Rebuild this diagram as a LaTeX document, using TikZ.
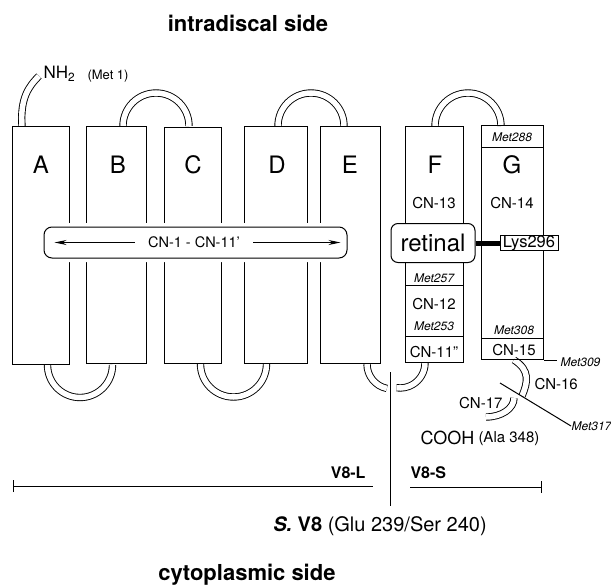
\documentclass[tikz,border=0pt]{standalone}
\usepackage{fontspec}
\setmainfont{TeX Gyre Heros}
\usetikzlibrary{arrows.meta,backgrounds,calc}
\newcommand{\fsz}[1]{\fontsize{#1}{#1}\selectfont}
\tikzset{every picture/.style={line width=1pt}}
\tikzset{
  helix/.style={draw, rectangle, inner sep=0pt, anchor=north west},
  loopline/.style={double, double distance=5.5pt, line width=0.9pt},
  hxlabel/.style={font=\fsz{24}},
  cnlabel/.style={font=\fsz{15}, inner sep=0pt},
  metlabel/.style={font=\fsz{12}\itshape, inner sep=0pt},
  sidelabel/.style={font=\fsz{22}\bfseries},
  v8label/.style={font=\fsz{16}\bfseries, inner sep=0pt},
}

\begin{document}
\begin{tikzpicture}[x=1pt,y=1pt]
    \useasboundingbox (0,0) rectangle (611,-586);
    % Seiten
    \node[sidelabel] (intra) at (248,-23) {intradiscal side};
    \node[sidelabel] (cyto) at (247,-575) {cytoplasmic side};
    % Helices A-G
    \node[helix, minimum width=57pt, minimum height=238pt] (hA) at (12,-126) {};
    \node[helix, minimum width=60pt, minimum height=237pt] (hB) at (86,-126) {};
    \node[helix, minimum width=57pt, minimum height=236pt] (hC) at (164,-127) {};
    \node[helix, minimum width=63pt, minimum height=237pt] (hD) at (244,-126) {};
    \node[helix, minimum width=60pt, minimum height=237pt] (hE) at (320,-126) {};
    \node[helix, minimum width=58pt, minimum height=236pt] (hF) at (405,-126) {};
    \node[helix, minimum width=62pt, minimum height=234pt] (hG) at (481,-125) {};
    \foreach \h/\x in {A/41,B/118,C/193,D/277,E/350,F/435,G/512}
        \node[hxlabel] (l\h) at (\x,-165) {\h};
    % N-Terminus
    \node[font=\fsz{17}, anchor=west, inner sep=0pt] (nh2) at (43,-74) {NH\textsubscript{2}};
    \node[font=\fsz{13}, anchor=west, inner sep=0pt] (met1) at (87,-76) {(Met 1)};
    % Schleifen
    \coordinate (c16) at (522,-396);
    \coordinate (c17) at (514,-398);
    \begin{scope}[on background layer]
        \draw[loopline] ([xshift=10pt]hA.north west) .. controls +(-2,28) and +(-10,-10) .. ([xshift=-4pt,yshift=-2pt]nh2.west);
        \draw[loopline] ([xshift=37pt]hB.north west) arc[start angle=180, end angle=0, radius=33];
        \draw[loopline] ([xshift=34pt]hD.north west) arc[start angle=180, end angle=0, radius=33];
        \draw[loopline] ([xshift=30pt]hF.north west) arc[start angle=180, end angle=0, radius=33];
        \draw[loopline] ([xshift=35.5pt]hA.south west) arc[start angle=180, end angle=360, radius=32.5];
        \draw[loopline] ([xshift=36.5pt]hC.south west) arc[start angle=180, end angle=360, radius=33];
        \draw[loopline] ([xshift=47pt]hE.south west) arc[start angle=180, end angle=258, radius=25];
        \draw[loopline] ([xshift=20pt]hF.south west) arc[start angle=0, end angle=-98, radius=25];
        \draw[loopline] ([xshift=33pt]hG.south west) .. controls +(16,-10) and +(6,14) .. (c16);
        \draw[loopline] (c17) arc[start angle=0, end angle=-90, x radius=28, y radius=19];
    \end{scope}
    % CN-1 - CN-11'
    \node[draw, fill=white, rounded corners=8pt, minimum width=303pt, minimum height=31pt,
          preaction={draw=white, line width=8pt}] (tm) at (195.5,-242.5) {};
    \draw[{Stealth[length=12pt,width=5pt]}-{Stealth[length=12pt,width=5pt]}]
        ([xshift=11pt]tm.west) -- ([xshift=-7pt]tm.east);
    \node[cnlabel, font=\fsz{14.5}, fill=white, inner xsep=13pt, inner ysep=2pt] (tmtxt) at (194,-242) {CN-1 - CN-11'};
    % Helix F
    \node[cnlabel] (cn13) at (434,-203) {CN-13};
    \node[metlabel] (m257) at (434,-278) {Met257};
    \draw (hF.west |- 0,-285) -- (hF.east |- 0,-285);
    \node[cnlabel] (cn12) at (434,-304) {CN-12};
    \node[metlabel] (m253) at (434,-326) {Met253};
    \draw (hF.west |- 0,-336) -- (hF.east |- 0,-336);
    \node[cnlabel] (cn11) at (434,-352) {CN-11''};
    % Helix G
    \node[metlabel] (m288) at (512,-137) {Met288};
    \draw (hG.west |- 0,-147) -- (hG.east |- 0,-147);
    \node[cnlabel] (cn14) at (512,-203) {CN-14};
    \node[metlabel] (m308) at (514,-330) {Met308};
    \draw (hG.west |- 0,-338) -- (hG.east |- 0,-338);
    \node[cnlabel] (cn15) at (514,-350) {CN-15};
    \draw (hG.south east) -- ++(13,0);
    \node[metlabel, anchor=west] (m309) at (560,-362) {Met309};
    % Retinal an Lys296
    \node[draw, fill=white, rounded corners=7pt, minimum width=84pt, minimum height=39pt,
          inner sep=0pt, font=\fsz{24}] (ret) at (433,-243) {retinal};
    \node[draw, fill=white, minimum width=58pt, minimum height=15pt, inner sep=0pt,
          font=\fsz{16.5}] (lys) at (529,-243) {Lys296};
    \draw[line width=5pt] (ret.east) -- (lys.west);
    % C-Terminus
    \node[cnlabel, anchor=west] (cn16) at (534,-384) {CN-16};
    \node[cnlabel, anchor=east] (cn17) at (503,-403) {CN-17};
    \coordinate (c317) at (500,-383);
    \node[metlabel, anchor=west] (m317) at (571,-426) {Met317};
    \draw (c317) -- (m317.west);
    \node[font=\fsz{18}, anchor=west, inner sep=0pt] (cooh) at (420,-438) {COOH};
    \node[font=\fsz{15}, anchor=west, inner sep=0pt] (ala) at (478,-439) {(Ala 348)};
    % Spaltung durch S. V8
    \coordinate (cutT) at (390,-372);
    \coordinate (cutB) at (390,-506);
    \draw (cutT) -- (cutB);
    \coordinate (lEnd) at (13,-486);
    \coordinate (lCut) at (373,-486);
    \coordinate (sCut) at (410,-487);
    \coordinate (sEnd) at (542,-487);
    \draw[{Bar[width=12pt]}-] (lEnd) -- (lCut);
    \draw[-{Bar[width=12pt]}] (sCut) -- (sEnd);
    \node[v8label, anchor=east] (v8l) at (366,-473) {V8-L};
    \node[v8label, anchor=west] (v8s) at (410,-473) {V8-S};
    \node[font=\fsz{20}, inner sep=0pt] (sv8) at (380,-526) {\textbf{\textit{S.} V8} (Glu 239/Ser 240)};
\end{tikzpicture}
\end{document}
